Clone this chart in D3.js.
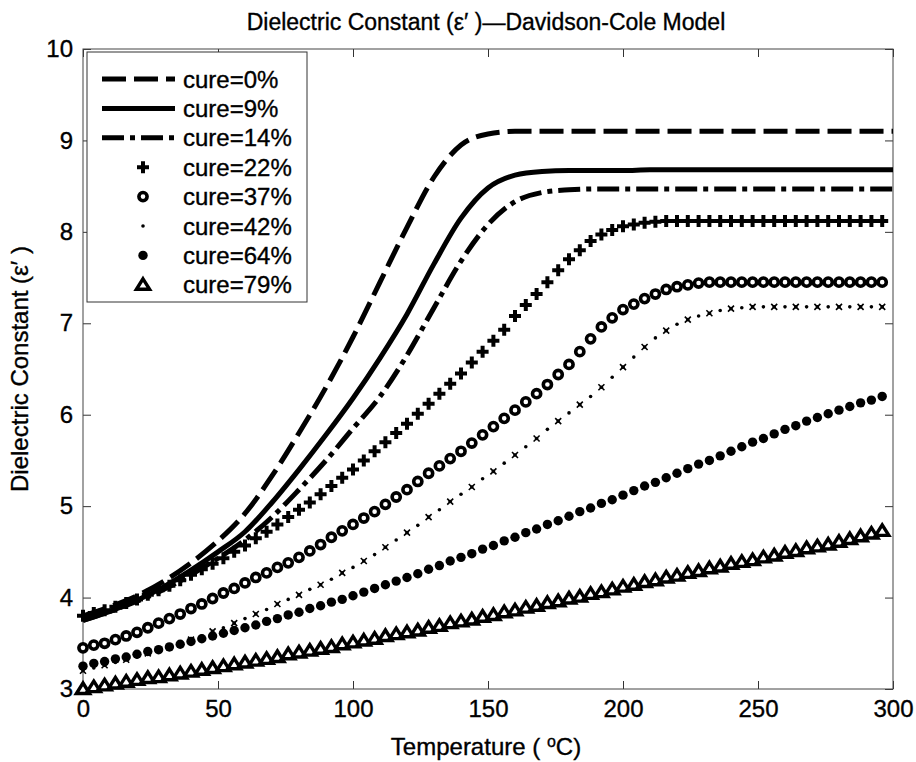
<!DOCTYPE html>
<html><head><meta charset="utf-8">
<script src="https://cdn.jsdelivr.net/npm/d3@7/dist/d3.min.js"></script>
<style>
body{margin:0;background:#fff;}
text{font-family:"Liberation Sans",Arial,Helvetica,sans-serif;fill:#000;stroke:#000;stroke-width:0.35px;}
</style></head>
<body><svg id="c" width="916" height="762"></svg>
<script>
// ---------- DATA ----------
const xTicks = [0, 50, 100, 150, 200, 250, 300];
const yTicks = [3, 4, 5, 6, 7, 8, 9, 10];
const legendLabels = ["cure=0%", "cure=9%", "cure=14%", "cure=22%", "cure=37%", "cure=42%", "cure=64%", "cure=79%"];

// line series (temperature step 10)
const lineTemps = [0,10,20,30,40,50,60,70,80,90,100,110,120,130,140,150,160,170,180,190,200,210,220,230,240,250,260,270,280,290,300];
const cure0  = [3.80,3.90,4.02,4.18,4.38,4.62,4.92,5.33,5.80,6.30,6.85,7.45,8.05,8.60,8.95,9.07,9.10,9.10,9.10,9.10,9.10,9.10,9.10,9.10,9.10,9.10,9.10,9.10,9.10,9.10,9.10];
const cure9  = [3.75,3.85,3.97,4.12,4.30,4.50,4.72,5.04,5.40,5.78,6.18,6.62,7.10,7.65,8.15,8.48,8.62,8.66,8.67,8.67,8.67,8.68,8.68,8.68,8.68,8.68,8.68,8.68,8.68,8.68,8.68];
const cure14 = [3.75,3.85,3.96,4.09,4.25,4.43,4.63,4.88,5.18,5.50,5.85,6.20,6.65,7.17,7.68,8.08,8.33,8.43,8.46,8.47,8.47,8.47,8.47,8.47,8.47,8.47,8.47,8.47,8.47,8.47,8.47];

// marker series (temperature step 4)
const markTemps = [0,4,8,12,16,20,24,28,32,36,40,44,48,52,56,60,64,68,72,76,80,84,88,92,96,100,104,108,112,116,120,124,128,132,136,140,144,148,152,156,160,164,168,172,176,180,184,188,192,196,200,204,208,212,216,220,224,228,232,236,240,244,248,252,256,260,264,268,272,276,280,284,288,292,296];
const cure22 = [3.80,3.83,3.86,3.90,3.94,3.98,4.03,4.08,4.13,4.19,4.25,4.31,4.37,4.43,4.50,4.57,4.65,4.72,4.80,4.88,4.96,5.04,5.13,5.22,5.31,5.40,5.50,5.60,5.70,5.80,5.90,6.01,6.12,6.23,6.34,6.45,6.57,6.69,6.81,6.93,7.08,7.20,7.32,7.45,7.58,7.70,7.80,7.90,7.97,8.02,8.06,8.08,8.10,8.11,8.12,8.12,8.12,8.12,8.12,8.12,8.12,8.12,8.12,8.12,8.12,8.12,8.12,8.12,8.12,8.12,8.12,8.12,8.12,8.12,8.12];
const cure37 = [3.45,3.48,3.50,3.54,3.58,3.62,3.67,3.72,3.77,3.82,3.88,3.93,3.99,4.05,4.10,4.16,4.22,4.27,4.33,4.38,4.44,4.51,4.58,4.66,4.73,4.80,4.87,4.94,5.02,5.10,5.18,5.27,5.36,5.44,5.52,5.60,5.69,5.78,5.87,5.96,6.05,6.14,6.23,6.33,6.44,6.55,6.69,6.83,6.96,7.06,7.15,7.21,7.27,7.32,7.37,7.40,7.42,7.44,7.45,7.45,7.45,7.45,7.45,7.45,7.45,7.45,7.45,7.45,7.45,7.45,7.45,7.45,7.45,7.45,7.45];
const cure42 = [3.20,3.23,3.26,3.29,3.32,3.35,3.39,3.42,3.46,3.50,3.54,3.58,3.63,3.67,3.72,3.77,3.82,3.87,3.93,3.98,4.03,4.09,4.14,4.20,4.27,4.33,4.40,4.47,4.55,4.63,4.71,4.79,4.88,4.96,5.05,5.13,5.21,5.30,5.38,5.47,5.56,5.65,5.74,5.84,5.93,6.02,6.11,6.20,6.30,6.41,6.52,6.63,6.74,6.84,6.92,6.99,7.04,7.08,7.11,7.14,7.16,7.17,7.18,7.18,7.18,7.18,7.18,7.18,7.18,7.18,7.18,7.18,7.18,7.18,7.18];
const cure64 = [3.25,3.28,3.30,3.33,3.35,3.38,3.41,3.43,3.46,3.49,3.52,3.55,3.58,3.61,3.64,3.67,3.70,3.74,3.77,3.81,3.84,3.88,3.91,3.95,3.98,4.02,4.06,4.10,4.14,4.18,4.22,4.26,4.31,4.35,4.40,4.44,4.48,4.53,4.57,4.62,4.66,4.71,4.75,4.80,4.84,4.89,4.94,4.98,5.03,5.07,5.12,5.17,5.22,5.26,5.31,5.36,5.41,5.46,5.50,5.55,5.60,5.65,5.70,5.74,5.79,5.84,5.88,5.93,5.97,6.01,6.05,6.09,6.13,6.16,6.20];
const cure79 = [3.00,3.02,3.04,3.06,3.08,3.10,3.12,3.13,3.15,3.17,3.19,3.21,3.23,3.25,3.27,3.29,3.31,3.33,3.35,3.38,3.40,3.42,3.44,3.46,3.49,3.51,3.53,3.55,3.58,3.60,3.62,3.64,3.67,3.69,3.72,3.74,3.76,3.79,3.81,3.84,3.86,3.89,3.91,3.94,3.96,3.99,4.01,4.04,4.06,4.09,4.12,4.14,4.17,4.19,4.22,4.24,4.27,4.29,4.32,4.34,4.37,4.39,4.41,4.44,4.46,4.49,4.51,4.54,4.56,4.58,4.61,4.64,4.67,4.70,4.73];

// ---------- LAYOUT ----------
const svg = d3.select("#c");
const L = 83, R = 893, T = 49, B = 689;
const x = d3.scaleLinear().domain([0, 300]).range([L, R]);
const y = d3.scaleLinear().domain([3, 10]).range([B, T]);

const dashStyles = {dash: "24,8", solid: null, dashdot: "22,6,5,6"};
const FONT = '"Liberation Sans",Arial,sans-serif';
const fs = "24px";

// axes
const gAx = svg.append("g");
gAx.append("g").attr("transform", `translate(0,${B})`)
  .call(d3.axisBottom(x).tickValues(xTicks).tickSize(-8).tickPadding(11).tickFormat(d3.format("d")))
  .call(g => { g.select(".domain").remove(); g.selectAll("text").style("font-size", fs); });
gAx.append("g").attr("transform", `translate(0,${T})`)
  .call(d3.axisTop(x).tickValues(xTicks).tickSize(-8).tickFormat(""))
  .call(g => g.select(".domain").remove());
gAx.append("g").attr("transform", `translate(${L},0)`)
  .call(d3.axisLeft(y).tickValues(yTicks).tickSize(-8).tickPadding(10).tickFormat(d3.format("d")))
  .call(g => { g.select(".domain").remove(); g.selectAll("text").style("font-size", fs); });
gAx.append("g").attr("transform", `translate(${R},0)`)
  .call(d3.axisRight(y).tickValues(yTicks).tickSize(-8).tickFormat(""))
  .call(g => g.select(".domain").remove());
gAx.selectAll(".tick line").attr("stroke", "#333");
gAx.selectAll("text").attr("fill", "#000").style("font-family", FONT);

svg.append("rect").attr("x", L).attr("y", T).attr("width", R - L).attr("height", B - T)
  .attr("fill", "none").attr("stroke", "#444").attr("stroke-width", 1);

// ---------- SERIES ----------
const plot = svg.append("g");
const lineGen = d3.line().x(d => x(d[0])).y(d => y(d[1])).curve(d3.curveMonotoneX);
[[cure0, "dash"], [cure9, "solid"], [cure14, "dashdot"]].forEach(([vals, st]) => {
  plot.append("path").datum(lineTemps.map((t, i) => [t, vals[i]]))
    .attr("d", lineGen).attr("fill", "none").attr("stroke", "#000").attr("stroke-width", 5)
    .attr("stroke-dasharray", dashStyles[st]);
});

function plusPath(s){ return `M${-s},0H${s}M0,${-s}V${s}`; }
function triPath(s){ return `M0,${-s}L${s*1.1},${s*0.75}L${-s*1.1},${s*0.75}Z`; }
function xPath(s){ return `M${-s},${-s}L${s},${s}M${-s},${s}L${s},${-s}`; }

function drawMarkers(g, pts, kind) {
  pts.forEach(([cx, cy], i) => {
    if (kind === "plus") {
      g.append("path").attr("d", plusPath(6)).attr("transform", `translate(${cx},${cy})`)
        .attr("stroke", "#000").attr("stroke-width", 4).attr("fill", "none");
    } else if (kind === "circle") {
      g.append("circle").attr("cx", cx).attr("cy", cy).attr("r", 4.1)
        .attr("fill", "#fff").attr("stroke", "#000").attr("stroke-width", 3.6);
    } else if (kind === "point") {
      if (i % 2 === 0 && pts.length > 1) {
        g.append("path").attr("d", xPath(3)).attr("transform", `translate(${cx},${cy})`)
          .attr("stroke", "#000").attr("stroke-width", 1.6).attr("fill", "none");
      }
      g.append("circle").attr("cx", cx).attr("cy", cy).attr("r", 1.8).attr("fill", "#000");
    } else if (kind === "dot") {
      g.append("circle").attr("cx", cx).attr("cy", cy).attr("r", 4.7).attr("fill", "#000");
    } else if (kind === "tri") {
      g.append("path").attr("d", triPath(6)).attr("transform", `translate(${cx},${cy})`)
        .attr("fill", "#fff").attr("stroke", "#000").attr("stroke-width", 3.4).attr("stroke-linejoin", "miter");
    }
  });
}
const markerSeries = [[cure22, "plus"], [cure37, "circle"], [cure42, "point"], [cure64, "dot"], [cure79, "tri"]];
markerSeries.forEach(([vals, kind]) => {
  const g = plot.append("g");
  drawMarkers(g, markTemps.map((t, i) => [x(t), y(vals[i])]), kind);
});

// ---------- LEGEND ----------
const lg = svg.append("g");
lg.append("rect").attr("x", 87).attr("y", 52).attr("width", 220).attr("height", 250)
  .attr("fill", "#fff").attr("stroke", "#333").attr("stroke-width", 1);
const kinds = ["dash", "solid", "dashdot", "plus", "circle", "point", "dot", "tri"];
legendLabels.forEach((lab, i) => {
  const cy = 79 + i * 29.4;
  const k = kinds[i];
  if (k === "dash" || k === "solid" || k === "dashdot") {
    lg.append("line").attr("x1", 102).attr("x2", 175).attr("y1", cy).attr("y2", cy)
      .attr("stroke", "#000").attr("stroke-width", 5).attr("stroke-dasharray", dashStyles[k]);
  } else {
    drawMarkers(lg, [[143, cy]], k);
  }
  lg.append("text").attr("x", 183).attr("y", cy).attr("dy", "0.36em")
    .style("font-size", fs).text(lab);
});

// ---------- TEXT ----------
svg.append("text").attr("x", 486).attr("y", 30).attr("text-anchor", "middle")
  .style("font-size", "23px").text("Dielectric Constant (ε′ )—Davidson-Cole Model");
const xl = svg.append("text").attr("x", 486).attr("y", 755).attr("text-anchor", "middle").style("font-size", fs);
xl.append("tspan").text("Temperature ( ");
xl.append("tspan").attr("baseline-shift", "super").style("font-size", "16px").text("o");
xl.append("tspan").text("C)");
svg.append("text").attr("transform", `translate(28,${(T + B) / 2}) rotate(-90)`)
  .attr("text-anchor", "middle").style("font-size", fs).text("Dielectric Constant (ε′ )");
</script></body></html>
